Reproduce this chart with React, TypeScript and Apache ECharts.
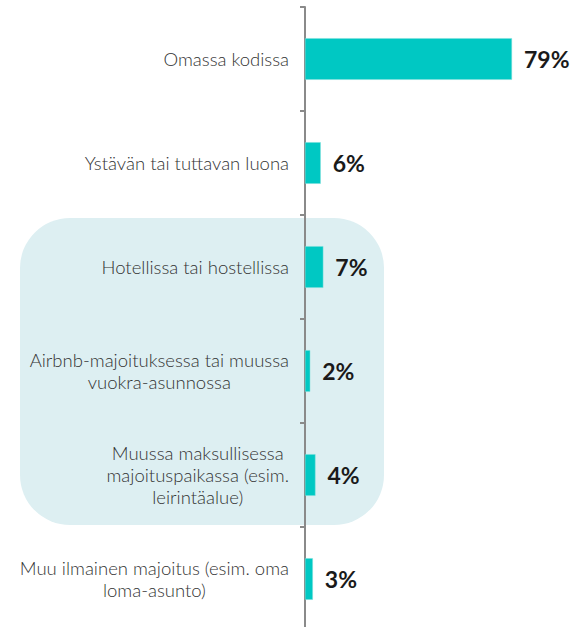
import React, { useEffect, useRef } from "react";
import * as echarts from "echarts";

const categories = [
  "Omassa kodissa",
  "Ystävän tai tuttavan luona",
  "Hotellissa tai hostellissa",
  "Airbnb-majoituksessa tai muussa\nvuokra-asunnossa",
  "Muussa maksullisessa\nmajoituspaikassa (esim.\nleirintäalue)",
  "Muu ilmainen majoitus (esim. oma\nloma-asunto)",
];
const values = [79, 6, 7, 2, 4, 3];

const FONT = "Lato, 'Open Sans', sans-serif";

export default function App() {
  const ref = useRef<HTMLDivElement>(null);
  useEffect(() => {
    if (!ref.current) return;
    const chart = echarts.init(ref.current, undefined, { renderer: "svg" });
    chart.setOption({
      animation: false,
      backgroundColor: "#ffffff",
      graphic: [
        {
          type: "rect",
          z: -10,
          silent: true,
          shape: { x: 20, y: 218, width: 364, height: 307, r: 50 },
          style: { fill: "#DDEFF2" },
        },
      ],
      grid: { left: 305, top: 7, right: 10, height: 624, containLabel: false },
      xAxis: {
        type: "value",
        min: 0,
        max: 100,
        show: false,
      },
      yAxis: {
        type: "category",
        inverse: true,
        data: categories,
        axisLine: { show: true, lineStyle: { color: "#8a8a8a", width: 2 } },
        axisTick: { show: true, length: 5, lineStyle: { color: "#8a8a8a", width: 2 } },
        axisLabel: {
          margin: 16,
          align: "right",
          fontFamily: FONT,
          fontSize: 18.5,
          color: "#333333",
          lineHeight: 22,
          formatter: (v: string) =>
            v
              .split("\n")
              .map((l) => "{c|" + l + "}")
              .join("\n"),
          rich: {
            c: {
              align: "center",
              fontFamily: FONT,
              fontSize: 18.5,
              fontWeight: 300,
              color: "#333333",
              lineHeight: 22,
            },
          },
        },
      },
      series: [
        {
          type: "bar",
          data: values,
          barWidth: "40%",
          itemStyle: { color: "#00C8C3", borderColor: "#7FE0DC", borderWidth: 0.5 },
          label: {
            show: true,
            position: "right",
            distance: 12,
            formatter: "{c}%",
            fontFamily: FONT,
            fontSize: 23,
            fontWeight: "bold",
            color: "#1a1a1a",
          },
        },
      ],
    });
    return () => chart.dispose();
  }, []);
  return (
    <div
      ref={ref}
      style={{ position: "fixed", left: 0, top: 0, width: 577, height: 640 }}
    />
  );
}
